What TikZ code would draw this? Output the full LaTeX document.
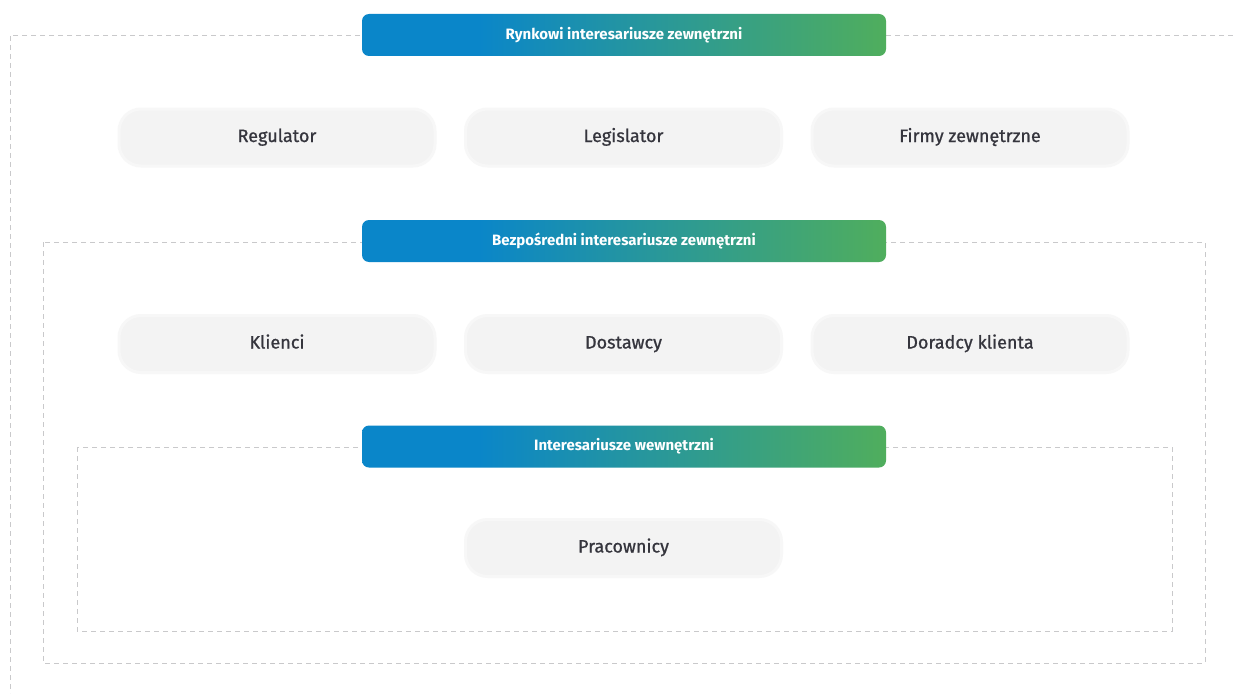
\documentclass[tikz,border=0pt]{standalone}
\usepackage{fontspec}
\setmainfont{Fira Sans}
\newfontfamily\pillfont{Fira Sans}[FakeBold = 0.9]
\definecolor{hdrblue}{HTML}{0A86C9}
\definecolor{hdrgreen}{HTML}{60B744}
\definecolor{pillgray}{HTML}{F3F3F3}
\definecolor{pilledge}{HTML}{F7F7F7}
\definecolor{dashgray}{HTML}{C9C9CB}
\definecolor{txtgray}{HTML}{35353D}
\pgfdeclarehorizontalshading{hdrshade}{100bp}{color(0bp)=(hdrblue); color(36bp)=(hdrblue); color(84bp)=(hdrgreen); color(100bp)=(hdrgreen)}
\tikzset{
	header/.style = {rounded corners = 7pt, shading = hdrshade, minimum width = 524pt, minimum height = 42pt, text = white, font = \fontsize{15}{17}\selectfont\bfseries},
	pill/.style = {rounded corners = 22pt, fill = pillgray, draw = pilledge, line width = 3pt, minimum width = 316pt, minimum height = 57pt, text = txtgray, text height = 13pt, text depth = 4pt, font = \fontsize{18}{20}\selectfont\pillfont},
	frame/.style = {draw = dashgray, line width = 0.9pt, dash pattern = on 5pt off 4pt}
}

\begin{document}
\begin{tikzpicture}[x = 1pt, y = -1pt]
		\useasboundingbox [fill = white] (0, 0) rectangle (1233, 693) ;
		\begin{scope} % Frames
			\draw [frame] (1233, 35) -- (10, 35) -- (10, 693) ;
			\draw [frame] (43, 242) rectangle (1205, 663) ;
			\draw [frame] (77, 447) rectangle (1172, 631) ;
		\end{scope}
		\begin{scope} % Market level
			\node [header] (market) at (624, 35) {Rynkowi interesariusze zewnętrzni} ;
			\node [pill] (regulator) at (277, 137.5) {Regulator} ;
			\node [pill] (legislator) at (623.5, 137.5) {Legislator} ;
			\node [pill] (firms) at (970, 137.5) {Firmy zewnętrzne} ;
		\end{scope}
		\begin{scope} % Direct level
			\node [header] (direct) at (624, 241) {Bezpośredni interesariusze zewnętrzni} ;
			\node [pill] (clients) at (277, 344) {Klienci} ;
			\node [pill] (suppliers) at (623.5, 344) {Dostawcy} ;
			\node [pill] (advisors) at (970, 344) {Doradcy klienta} ;
		\end{scope}
		\begin{scope} % Internal level
			\node [header] (internal) at (624, 446.5) {Interesariusze wewnętrzni} ;
			\node [pill] (staff) at (623.5, 548) {Pracownicy} ;
		\end{scope}
	\end{tikzpicture}
\end{document}
